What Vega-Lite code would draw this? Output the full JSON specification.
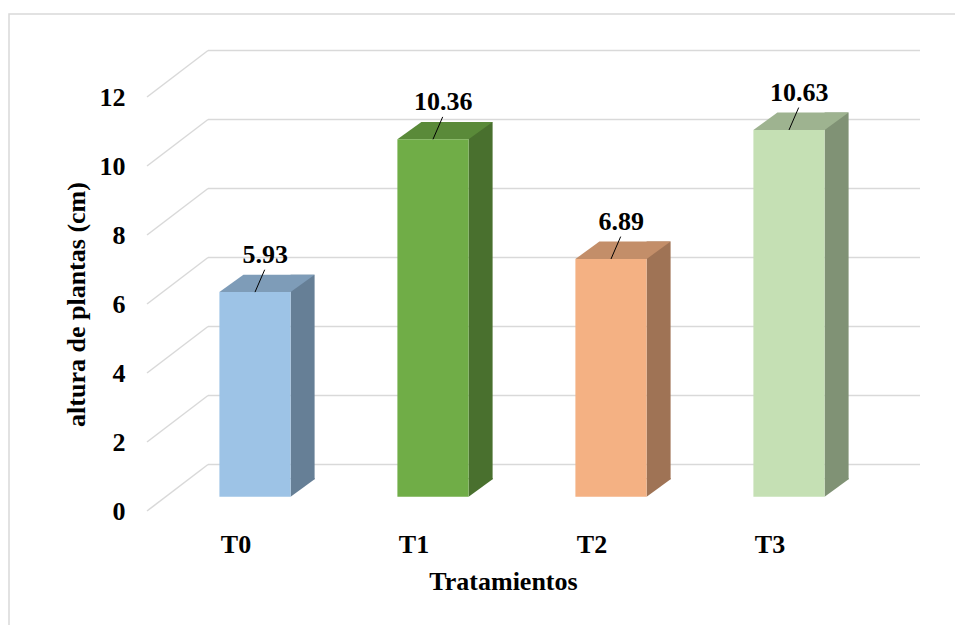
{
  "$schema": "https://vega.github.io/schema/vega-lite/v6.json",
  "width": 712,
  "height": 414,
  "autosize": "none",
  "padding": {"left": 147, "top": 97, "right": 96, "bottom": 114},
  "background": "white",
  "config": {"view": {"stroke": null}, "font": "Liberation Serif"},
  "data": {
    "values": [
      {"trat": "T0", "altura": 5.93},
      {"trat": "T1", "altura": 10.36},
      {"trat": "T2", "altura": 6.89},
      {"trat": "T3", "altura": 10.63}
    ]
  },
  "layer": [
    {
      "data": {"values": [{"frame": 1}]},
      "mark": {"type": "rect", "filled": false, "color": "#D9D9D9", "strokeWidth": 1.5},
      "encoding": {
        "x": {"value": -138},
        "x2": {"value": 900},
        "y": {"value": -83},
        "y2": {"value": 600}
      }
    },
    {
      "data": {"values": [{"v": 0}, {"v": 2}, {"v": 4}, {"v": 6}, {"v": 8}, {"v": 10}, {"v": 12}]},
      "mark": {"type": "rule", "color": "#D9D9D9", "strokeWidth": 1.5, "yOffset": -46.5},
      "encoding": {
        "y": {"field": "v", "type": "quantitative", "scale": {"domain": [0, 12], "nice": false}},
        "x": {"value": 61},
        "x2": {"value": 773}
      }
    },
    {
      "data": {"values": [{"v": 0}, {"v": 2}, {"v": 4}, {"v": 6}, {"v": 8}, {"v": 10}, {"v": 12}]},
      "mark": {"type": "rule", "color": "#D9D9D9", "strokeWidth": 1.5, "y2Offset": -46.5},
      "encoding": {
        "y": {"field": "v", "type": "quantitative"},
        "y2": {"field": "v"},
        "x": {"value": 0},
        "x2": {"value": 61}
      }
    },
    {
      "mark": {"type": "bar", "width": 24, "xOffset": 66.6, "yOffset": -31.7},
      "encoding": {
        "x": {"field": "trat", "type": "nominal", "scale": {"type": "band", "paddingInner": 0.6, "paddingOuter": 0.3}},
        "y": {"field": "altura", "type": "quantitative"},
        "color": {
          "condition": [
            {"test": "datum.trat === 'T0'", "value": "#667F96"},
            {"test": "datum.trat === 'T1'", "value": "#49702E"},
            {"test": "datum.trat === 'T2'", "value": "#9F7355"}
          ],
          "value": "#809275"
        }
      }
    },
    {
      "mark": {"type": "point", "filled": true, "opacity": 1, "size": 4, "strokeWidth": 0,
               "shape": "M54.6,-14.3 L54.6,-33 L78.6,-33 L78.6,-31.7 Z"},
      "encoding": {
        "x": {"field": "trat", "type": "nominal"},
        "y": {"value": "height"},
        "color": {
          "condition": [
            {"test": "datum.trat === 'T0'", "value": "#667F96"},
            {"test": "datum.trat === 'T1'", "value": "#49702E"},
            {"test": "datum.trat === 'T2'", "value": "#9F7355"}
          ],
          "value": "#809275"
        }
      }
    },
    {
      "mark": {"type": "point", "filled": true, "opacity": 1, "size": 4, "strokeWidth": 0,
               "shape": "M-16.6,-14.3 L54.6,-14.3 L78.6,-31.7 L7.4,-31.7 Z"},
      "encoding": {
        "x": {"field": "trat", "type": "nominal"},
        "y": {"field": "altura", "type": "quantitative"},
        "color": {
          "condition": [
            {"test": "datum.trat === 'T0'", "value": "#7E9CB8"},
            {"test": "datum.trat === 'T1'", "value": "#5A8A39"},
            {"test": "datum.trat === 'T2'", "value": "#C38E69"}
          ],
          "value": "#9EB390"
        }
      }
    },
    {
      "mark": {"type": "bar", "xOffset": 19, "yOffset": -14.3},
      "encoding": {
        "x": {
          "field": "trat", "type": "nominal", "title": "Tratamientos",
          "axis": {
            "domain": false, "ticks": false, "grid": false, "labelAngle": 0, "labelAlign": "center",
            "bandPosition": 0.5, "labelPadding": 33,
            "labelFont": "Liberation Serif", "labelFontSize": 26, "labelFontWeight": "bold", "labelColor": "black",
            "titleFont": "Liberation Serif", "titleFontSize": 26, "titleFontWeight": "bold", "titleColor": "black",
            "titlePadding": 11
          }
        },
        "y": {
          "field": "altura", "type": "quantitative", "title": "altura de plantas (cm)",
          "axis": {
            "values": [0, 2, 4, 6, 8, 10, 12], "grid": false, "domain": false, "ticks": false, "labelPadding": 22,
            "labelFont": "Liberation Serif", "labelFontSize": 26, "labelFontWeight": "bold", "labelColor": "black",
            "titleFont": "Liberation Serif", "titleFontSize": 26, "titleFontWeight": "bold", "titleColor": "black",
            "titlePadding": 10
          }
        },
        "color": {
          "condition": [
            {"test": "datum.trat === 'T0'", "value": "#9DC3E6"},
            {"test": "datum.trat === 'T1'", "value": "#70AD47"},
            {"test": "datum.trat === 'T2'", "value": "#F4B183"}
          ],
          "value": "#C5E0B4"
        }
      }
    },
    {
      "mark": {"type": "point", "filled": false, "color": "black", "opacity": 1, "size": 4, "strokeWidth": 1,
               "shape": "M19,-14.3 L28.7,-36.7"},
      "encoding": {
        "x": {"field": "trat", "type": "nominal"},
        "y": {"field": "altura", "type": "quantitative"}
      }
    },
    {
      "mark": {"type": "text", "font": "Liberation Serif", "fontSize": 26, "fontWeight": "bold", "color": "black",
               "baseline": "middle", "align": "center", "xOffset": 29.3, "yOffset": -51.1},
      "encoding": {
        "x": {"field": "trat", "type": "nominal"},
        "y": {"field": "altura", "type": "quantitative"},
        "text": {"field": "altura", "type": "quantitative", "format": ".2f"}
      }
    }
  ]
}
